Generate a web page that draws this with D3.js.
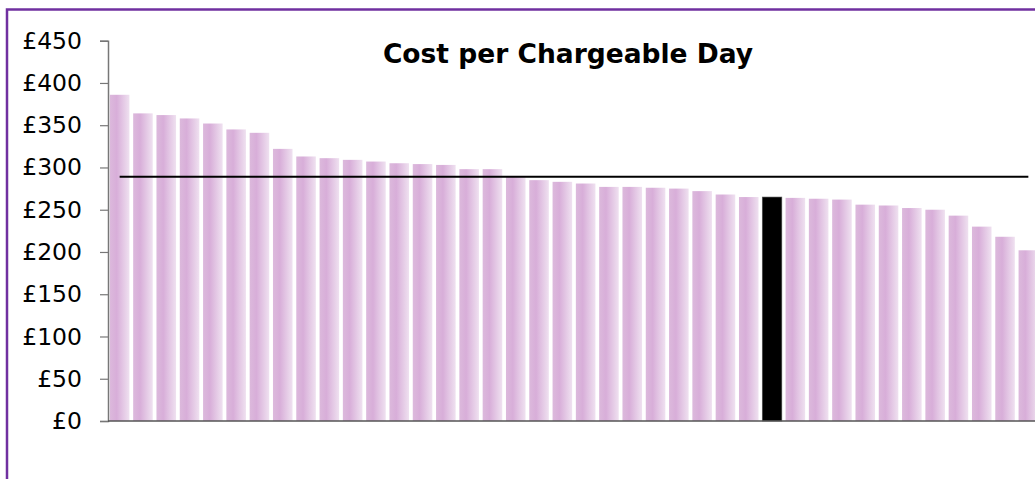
<!DOCTYPE html>
<html lang="en">
<head>
    <meta charset="UTF-8">
    <script src="https://d3js.org/d3.v7.min.js"></script>
    <title>Cost per Chargeable Day</title>
    <style>
      body { margin: 0; background: #fff; }
      svg { display: block; }
    </style>
</head>
<body>
    <svg width="1035" height="479" id="chart" xmlns="http://www.w3.org/2000/svg"></svg>
    <script type="text/javascript">
      // values, sorted high to low
      var costs = [386, 364, 362, 358, 352, 345, 341, 322, 313, 311, 309, 307, 305, 304, 303, 298, 298, 289,
                   285, 283, 281, 277, 277, 276, 275, 272, 268, 265, 265, 264, 263, 262, 256, 255, 252, 250,
                   243, 230, 218, 202];
      var highlightIndex = 28;
      var average = 289;
      var yTicks = [0, 50, 100, 150, 200, 250, 300, 350, 400, 450];
      var title = "Cost per Chargeable Day";

      var svg = d3.select("#chart");

      // purple frame (only top and left edges are in view)
      svg.append("path")
        .attr("d", "M7,479 V9.5 H1035")
        .attr("fill", "none")
        .attr("stroke", "#7030a0")
        .attr("stroke-width", 2.5);

      var defs = svg.append("defs");
      var grad = defs.append("linearGradient")
        .attr("id", "barfill")
        .attr("x1", 0).attr("x2", 1).attr("y1", 0).attr("y2", 0);
      grad.append("stop").attr("offset", "0%").attr("stop-color", "#dcb9dc");
      grad.append("stop").attr("offset", "35%").attr("stop-color", "#d8aed9");
      grad.append("stop").attr("offset", "100%").attr("stop-color", "#efe1f0");

      var x = d3.scaleBand()
        .domain(d3.range(costs.length))
        .range([108, 1040])
        .paddingInner(0.16)
        .paddingOuter(0.08);

      var y = d3.scaleLinear()
        .domain([0, 450])
        .range([421, 40.7]);

      svg.append("g").selectAll("rect")
        .data(costs)
        .enter().append("rect")
        .attr("x", function(d, i) { return x(i); })
        .attr("width", x.bandwidth())
        .attr("y", function(d) { return y(d); })
        .attr("height", function(d) { return y(0) - y(d); })
        .attr("fill", function(d, i) { return i === highlightIndex ? "#000" : "url(#barfill)"; })
        .attr("stroke", function(d, i) { return i === highlightIndex ? "#555" : "none"; })
        .attr("stroke-width", 0.6);

      // average line, from first bar centre to last bar centre
      svg.append("line")
        .attr("x1", x(0) + x.bandwidth() / 2)
        .attr("x2", x(costs.length - 1) + x.bandwidth() / 2)
        .attr("y1", y(average))
        .attr("y2", y(average))
        .attr("stroke", "#000")
        .attr("stroke-width", 2);

      var yAxis = d3.axisLeft(y)
        .tickValues(yTicks)
        .tickSize(8)
        .tickPadding(18)
        .tickFormat(function(d) { return "£" + d; });

      var gy = svg.append("g")
        .attr("transform", "translate(108,0)")
        .call(yAxis);
      gy.select(".domain").attr("stroke", "#777").attr("stroke-width", 1.5);
      gy.selectAll(".tick line").attr("stroke", "#777").attr("stroke-width", 1.2);
      gy.selectAll("text")
        .attr("font-family", "DejaVu Sans, Verdana, sans-serif")
        .attr("font-size", 23.5)
        .attr("fill", "#000");

      // x baseline
      svg.append("line")
        .attr("x1", 108).attr("x2", 1035)
        .attr("y1", y(0)).attr("y2", y(0))
        .attr("stroke", "#555")
        .attr("stroke-width", 1.5);

      svg.append("text")
        .attr("x", 568)
        .attr("y", 62.5)
        .attr("text-anchor", "middle")
        .attr("font-family", "DejaVu Sans, Verdana, sans-serif")
        .attr("font-weight", "bold")
        .attr("font-size", 26.5)
        .attr("fill", "#000")
        .text(title);
    </script>
</body>
</html>
